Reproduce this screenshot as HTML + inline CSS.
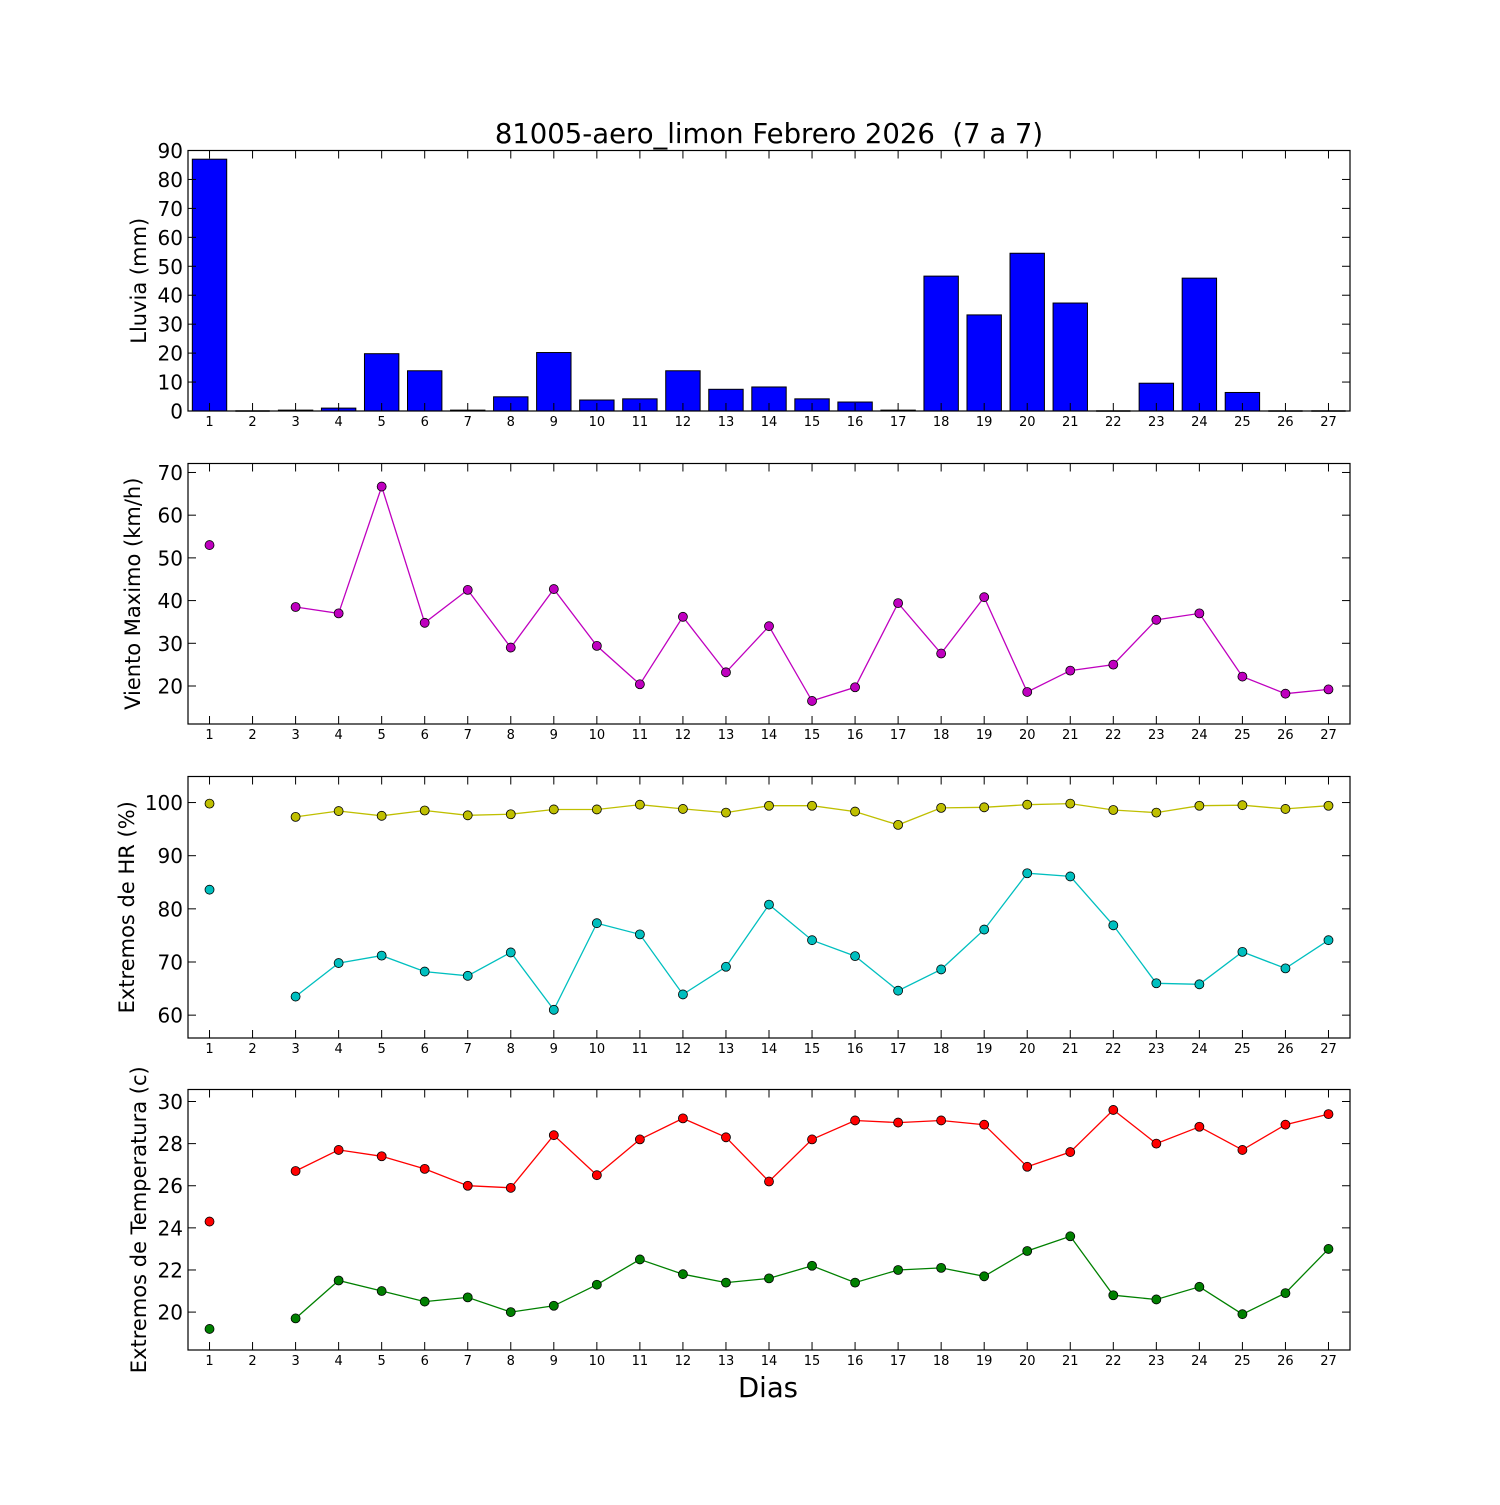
<!DOCTYPE html>
<html><head><meta charset="utf-8"><style>
body{margin:0;background:#fff}
svg text{font-family:"DejaVu Sans","Liberation Sans",sans-serif;fill:#000;white-space:pre}
</style></head><body>
<svg id="fig" width="1500" height="1500" viewBox="0 0 1500 1500" xmlns="http://www.w3.org/2000/svg">
<rect width="1500" height="1500" fill="#fff"/>
<text x="769" y="143" font-size="27.5" text-anchor="middle" xml:space="preserve">81005-aero_limon Febrero 2026  (7 a 7)</text>
<text x="768" y="1397" font-size="27.5" text-anchor="middle">Dias</text>
</svg>
<script>
const days=[1,2,3,4,5,6,7,8,9,10,11,12,13,14,15,16,17,18,19,20,21,22,23,24,25,26,27];
const rain=[87,0,0.3,1,19.8,13.9,0.3,4.9,20.2,3.8,4.2,13.9,7.5,8.3,4.2,3.1,0.3,46.6,33.2,54.5,37.3,0,9.6,45.9,6.4,0,0];
const wind=[53,null,38.5,37,66.7,34.8,42.5,29,42.7,29.4,20.4,36.2,23.2,34,16.5,19.7,39.4,27.6,40.8,18.6,23.6,25,35.5,37,22.2,18.2,19.2];
const hrMax=[99.8,null,97.3,98.4,97.5,98.5,97.6,97.8,98.7,98.7,99.6,98.8,98.1,99.4,99.4,98.3,95.8,99,99.1,99.6,99.8,98.6,98.1,99.4,99.5,98.8,99.4];
const hrMin=[83.6,null,63.5,69.8,71.2,68.2,67.4,71.8,61,77.3,75.2,63.9,69.1,80.8,74.1,71.1,64.6,68.6,76.1,86.7,86.1,76.9,66,65.8,71.9,68.8,74.1];
const tMax=[24.3,null,26.7,27.7,27.4,26.8,26,25.9,28.4,26.5,28.2,29.2,28.3,26.2,28.2,29.1,29,29.1,28.9,26.9,27.6,29.6,28,28.8,27.7,28.9,29.4];
const tMin=[19.2,null,19.7,21.5,21,20.5,20.7,20,20.3,21.3,22.5,21.8,21.4,21.6,22.2,21.4,22,22.1,21.7,22.9,23.6,20.8,20.6,21.2,19.9,20.9,23];
const rainTicks=[0,10,20,30,40,50,60,70,80,90];
const windTicks=[20,30,40,50,60,70];
const hrTicks=[60,70,80,90,100];
const tTicks=[20,22,24,26,28,30];

const NS='http://www.w3.org/2000/svg';
const svg=document.getElementById('fig');
const X0=188,X1=1350;
const xs=d=>X0+(d-0.5)/27*(X1-X0);
function mk(tag,attrs,parent){const e=document.createElementNS(NS,tag);for(const k in attrs)e.setAttribute(k,attrs[k]);(parent||svg).appendChild(e);return e;}

function panel(name,top,bot,ymin,ymax,ticks,label,labelX){
  const g=mk('g',{});
  
  
  const ys=v=>bot-(v-ymin)/(ymax-ymin)*(bot-top);
  return {g,ys,top,bot,finish(){
    const f=mk('rect',{x:X0,y:top,width:X1-X0,height:bot-top,fill:'none',stroke:'#000','stroke-width':1.2},g);
    
    
    ticks.forEach(t=>{const y=ys(t);
      mk('line',{x1:X0,x2:X0+8,y1:y,y2:y,stroke:'#000'},g);
      mk('line',{x1:X1,x2:X1-8,y1:y,y2:y,stroke:'#000'},g);
      const tx=mk('text',{x:X0-5,y:y+7.5,'font-size':20,'text-anchor':'end'},g);
      tx.textContent=t;
      
      
    });
    days.forEach(d=>{const x=xs(d);
      mk('line',{x1:x,x2:x,y1:bot,y2:bot-8,stroke:'#000'},g);
      mk('line',{x1:x,x2:x,y1:top,y2:top+8,stroke:'#000'},g);
      const tx=mk('text',{x:x,y:bot+15,'font-size':13,'text-anchor':'middle'},g);
      tx.textContent=d;
      
      
    });
    const cy=(top+bot)/2;
    const yl=mk('text',{x:labelX,y:cy,'font-size':21,'text-anchor':'middle',transform:`rotate(-90 ${labelX} ${cy})`},g);
    yl.textContent=label;
    
    
  }};
}
function series(p,vals,color,name){
  let d='',pen=false;
  vals.forEach((v,i)=>{if(v==null){pen=false;return;}
    const x=xs(days[i]),y=p.ys(v);d+=(pen?'L':'M')+x.toFixed(1)+' '+y.toFixed(1)+' ';pen=true;});
  const l=mk('path',{d:d,fill:'none',stroke:color,'stroke-width':1.3},p.g);
  
  
  vals.forEach((v,i)=>{if(v==null)return;
    const c=mk('circle',{cx:xs(days[i]),cy:p.ys(v),r:4.5,fill:color,stroke:'#000','stroke-width':0.8},p.g);
    
    
  });
}
// Rain
const p1=panel('rain',150.5,411,0,90,rainTicks,'Lluvia (mm)',146);
rain.forEach((v,i)=>{const x=xs(days[i]);const y=p1.ys(v);
  let b;
  if(v<=0){b=mk('line',{x1:x-17.2,x2:x+17.2,y1:p1.bot,y2:p1.bot,stroke:'#000','stroke-width':1.5},p1.g);}
  else{b=mk('rect',{x:x-17.2,y:y,width:34.4,height:p1.bot-y,fill:'#0000ff',stroke:'#000','stroke-width':1},p1.g);}
  
  
});
p1.finish();
// Wind
const p2=panel('wind',463.5,724,11.1,72.1,windTicks,'Viento Maximo (km/h)',140);
series(p2,wind,'#bf00bf','wind');
p2.finish();
// HR
const p3=panel('humidity',776.5,1038,55.7,104.9,hrTicks,'Extremos de HR (%)',134);
series(p3,hrMax,'#bfbf00','hr-max');
series(p3,hrMin,'#00bfbf','hr-min');
p3.finish();
// Temp
const p4=panel('temperature',1089.5,1350,18.2,30.57,tTicks,'Extremos de Temperatura (c)',146);
series(p4,tMax,'#ff0000','temp-max');
series(p4,tMin,'#008000','temp-min');
p4.finish();
</script>
</body></html>
